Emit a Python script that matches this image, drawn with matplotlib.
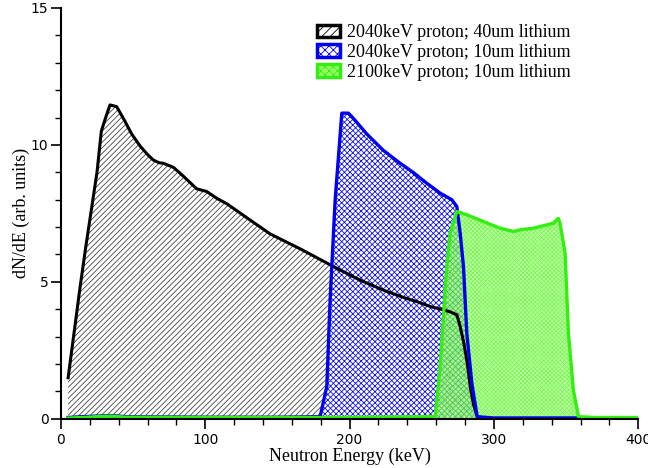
import matplotlib
matplotlib.use("Agg")
import matplotlib.pyplot as plt
from matplotlib.ticker import MultipleLocator
from matplotlib.patches import Patch

# 2040 keV proton, 40 um lithium
e_40 = [5, 9, 13, 17, 21, 25, 28, 31, 34, 38.6, 44, 49, 55, 60, 64, 68, 71, 78, 85, 94, 101, 108,
        115, 121.8, 131, 145, 166, 188.8, 207, 223.4, 238, 246.6, 256, 265, 270, 274.3, 276.6,
        279, 281.2, 283.9, 286, 288.5, 291, 320, 360, 400]
y_40 = [1.5, 3.1, 4.7, 6.2, 7.6, 9.0, 10.5, 11.0, 11.46, 11.4, 10.9, 10.4, 9.95, 9.65, 9.45, 9.35,
        9.33, 9.18, 8.85, 8.4, 8.3, 8.05, 7.85, 7.6, 7.26, 6.75, 6.2, 5.56, 5.07, 4.7, 4.42, 4.28,
        4.1, 3.98, 3.9, 3.8, 3.37, 2.8, 2.15, 1.06, 0.5, 0.08, 0.02, 0.02, 0.02, 0.02]

# 2040 keV proton, 10 um lithium
e_10a = [5, 15, 25, 35, 45, 100, 150, 179.6, 184.2, 186.5, 190, 194.6, 199.2, 202.6, 211.9, 223.4,
         235, 244, 253.5, 262.7, 270.8, 274.3, 276.6, 278.9, 281.2, 284.7, 288.4, 300, 358, 400]
y_10a = [0.05, 0.08, 0.1, 0.12, 0.08, 0.06, 0.06, 0.08, 1.18, 4.34, 8.0, 11.16, 11.16, 10.97,
         10.4, 9.8, 9.33, 9.0, 8.6, 8.24, 8.0, 7.75, 6.78, 5.56, 3.13, 1.3, 0.08, 0.03, 0.03, 0.03]

# 2100 keV proton, 10 um lithium
e_10b = [5, 15, 25, 35, 45, 100, 150, 200, 259.3, 262.7, 267.3, 269.6, 274.3, 281.2, 292.8, 304.3,
         313.5, 318.1, 327.3, 336.5, 341.1, 344.6, 345.8, 349.3, 351.6, 355, 358.6, 370, 400]
y_10b = [0.03, 0.05, 0.08, 0.1, 0.06, 0.05, 0.05, 0.05, 0.08, 1.9, 5.56, 6.78, 7.57, 7.45, 7.2,
         6.96, 6.84, 6.9, 6.96, 7.08, 7.14, 7.32, 7.14, 6.05, 3.13, 1.06, 0.08, 0.05, 0.05]

labels = ["2040keV proton; 40um lithium", "2040keV proton; 10um lithium",
          "2100keV proton; 10um lithium"]

plt.rcParams['hatch.linewidth'] = 0.6
fig = plt.figure(figsize=(6.48, 4.68), dpi=100)
ax = fig.add_axes([0.094, 0.105, 0.891, 0.878])

# fills
ax.fill_between(e_40, 0, y_40, facecolor='white', edgecolor='#444444', hatch='//////',
                linewidth=0, zorder=1)
ax.fill_between(e_10a, 0, y_10a, facecolor='white', edgecolor='#1010ee', hatch='xxxxxx',
                linewidth=0, zorder=2)
ax.fill_between(e_10b, 0, y_10b, facecolor=(0.6, 1.0, 0.45, 0.6), edgecolor=(0.3, 0.95, 0.1, 0.6),
                hatch='xxxxxxxx', linewidth=0, zorder=3)

# lines
ax.plot(e_40, y_40, color='black', lw=2.2, zorder=4, solid_joinstyle='round')
ax.plot(e_10a, y_10a, color='#0000ee', lw=2.4, zorder=5, solid_joinstyle='round')
ax.plot(e_10b, y_10b, color='#33ee11', lw=2.4, zorder=6, solid_joinstyle='round')

ax.set_xlim(0, 400)
ax.set_ylim(0, 15)
ax.spines['top'].set_visible(False)
ax.spines['right'].set_visible(False)
ax.spines['left'].set_linewidth(1.5)
ax.spines['bottom'].set_linewidth(1.5)
ax.spines['left'].set_zorder(10)
ax.spines['bottom'].set_zorder(10)

ax.xaxis.set_major_locator(MultipleLocator(100))
ax.xaxis.set_minor_locator(MultipleLocator(20))
ax.yaxis.set_major_locator(MultipleLocator(5))
ax.yaxis.set_minor_locator(MultipleLocator(1))
ax.tick_params(which='major', direction='out', length=7, width=1.2, labelsize=10)
ax.tick_params(which='minor', direction='out', length=4, width=1.0)
ax.tick_params(axis='y', which='major', pad=2)

serif = ['Liberation Serif', 'DejaVu Serif']
ax.set_xlabel("Neutron Energy (keV)", fontsize=13, family=serif, labelpad=0)
ax.set_ylabel("dN/dE (arb. units)", fontsize=13, family=serif)
ax.yaxis.set_label_coords(-0.054, 0.5)

handles = [
    Patch(facecolor='white', edgecolor='black', hatch='////', linewidth=2.5),
    Patch(facecolor='white', edgecolor='#0000ee', hatch='xxxx', linewidth=2.5),
    Patch(facecolor='#99ff66', edgecolor='#33ee11', hatch='xxxx', linewidth=2.5),
]
ax.legend(handles, labels, loc='upper right', bbox_to_anchor=(0.912, 1.0), frameon=False,
          prop={'family': serif, 'size': 13}, handlelength=1.3, handleheight=0.7,
          handletextpad=0.4, labelspacing=0.15)

fig.savefig("out.png", dpi=100)
